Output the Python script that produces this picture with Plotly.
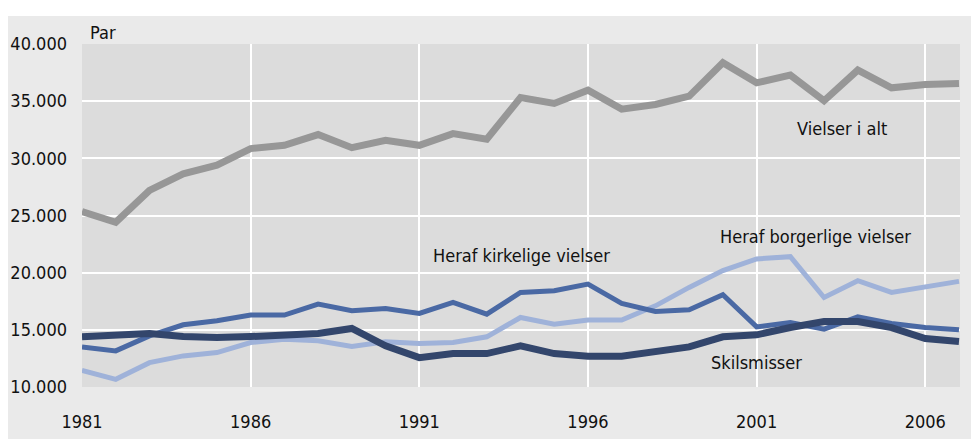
import plotly.graph_objects as go

years = list(range(1981, 2008))

vielser_i_alt = [25350, 24400, 27200, 28650, 29400, 30850, 31140, 32080, 30930, 31580,
                 31140, 32160, 31670, 35320, 34800, 35960, 34300, 34710, 35440, 38360,
                 36600, 37280, 35030, 37720, 36170, 36460, 36550]
kirkelige = [13510, 13160, 14470, 15440, 15790, 16290, 16290, 17250, 16670, 16870,
             16430, 17400, 16370, 18270, 18420, 19000, 17310, 16610, 16750, 18070,
             15260, 15640, 15060, 16140, 15560, 15200, 15000]
borgerlige = [11460, 10670, 12130, 12720, 13010, 13890, 14180, 14040, 13540, 13950,
              13800, 13890, 14390, 16080, 15500, 15850, 15850, 17100, 18710, 20180,
              21200, 21400, 17830, 19300, 18270, 18770, 19240]
skilsmisser = [14390, 14560, 14680, 14410, 14330, 14410, 14470, 14680, 15120, 13600,
               12570, 12920, 12920, 13600, 12920, 12690, 12690, 13070, 13510, 14390,
               14560, 15200, 15730, 15730, 15200, 14240, 13970]

labels = ["Vielser i alt", "Heraf kirkelige vielser", "Heraf borgerlige vielser", "Skilsmisser"]
label_pos = [(2003.54, 32630), (1994.02, 21490), (2002.74, 23160), (2001.0, 12100)]

FONT = "DejaVu Sans Condensed, Liberation Sans Narrow, sans-serif"

fig = go.Figure()
fig.add_trace(go.Scatter(x=years, y=borgerlige, mode="lines",
                         line=dict(color="#9fb2d9", width=5), name=labels[2]))
fig.add_trace(go.Scatter(x=years, y=kirkelige, mode="lines",
                         line=dict(color="#4a69a4", width=5), name=labels[1]))
fig.add_trace(go.Scatter(x=years, y=skilsmisser, mode="lines",
                         line=dict(color="#33466c", width=7), name=labels[3]))
fig.add_trace(go.Scatter(x=years, y=vielser_i_alt, mode="lines",
                         line=dict(color="#979797", width=7), name=labels[0]))

for t, (x, y) in zip(labels, label_pos):
    fig.add_annotation(x=x, y=y, xref="x", yref="y", text=t, showarrow=False,
                       font=dict(family=FONT, size=18, color="#111111"))

fig.add_annotation(x=0, y=1, xref="paper", yref="paper", xanchor="left", yanchor="bottom",
                   xshift=6, yshift=-1, text="Par", showarrow=False,
                   font=dict(family=FONT, size=18, color="#111111"))

# white strip above the grey panel, and inner plot background
H_PLOT = 343
fig.add_shape(type="rect", xref="paper", yref="paper",
              x0=-80 / 878, x1=1 + 40 / 878, y0=1 + 28 / H_PLOT, y1=1 + 40 / H_PLOT,
              fillcolor="white", line_width=0, layer="below")
fig.add_shape(type="rect", xref="paper", yref="paper", x0=0, x1=1, y0=0, y1=1,
              fillcolor="#dcdcdc", line_width=0, layer="below")

fig.update_layout(
    width=979, height=439,
    margin=dict(l=74, r=27, t=36, b=60, autoexpand=False),
    paper_bgcolor="#eaeaea", plot_bgcolor="#dcdcdc",
    showlegend=False,
    separators=",.",
    font=dict(family=FONT, size=18, color="#111111"),
)
fig.update_xaxes(range=[1981, 2007.03], tick0=1981, dtick=5, showgrid=True,
                 gridcolor="white", gridwidth=2, zeroline=False, showline=False,
                 automargin=False,
                 ticks="", ticklabelstandoff=22, tickfont=dict(family=FONT, size=18))
fig.update_yaxes(range=[10000, 40000], tick0=10000, dtick=5000, showgrid=True,
                 gridcolor="white", gridwidth=2, zeroline=False, showline=False,
                 automargin=False,
                 tickformat=",d", ticks="", ticklabelstandoff=14,
                 tickfont=dict(family=FONT, size=18))

fig.write_html("out.html")
